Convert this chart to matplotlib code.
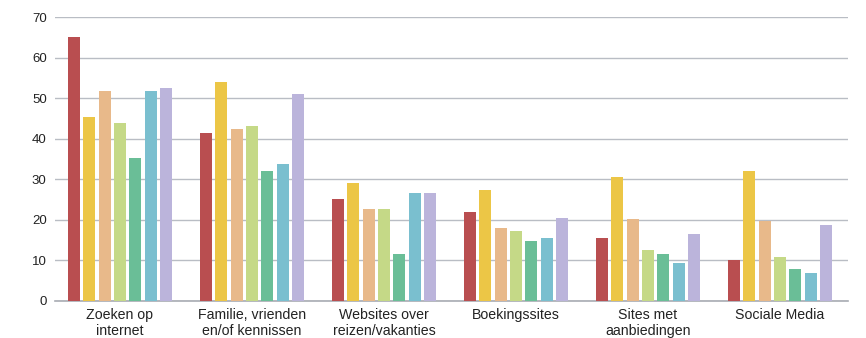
import numpy as np
import matplotlib.pyplot as plt

plt.rcParams['font.family'] = ['Liberation Sans', 'DejaVu Sans']

categories = ['Zoeken op\ninternet', 'Familie, vrienden\nen/of kennissen',
              'Websites over\nreizen/vakanties', 'Boekingssites',
              'Sites met\naanbiedingen', 'Sociale Media']

# one list per series (7 series, same order as the colours)
s1 = [65.0, 41.5, 25.1, 21.9, 15.6, 10.1]
s2 = [45.4, 54.1, 29.0, 27.4, 30.5, 32.0]
s3 = [51.8, 42.3, 22.7, 18.0, 20.3, 19.6]
s4 = [43.8, 43.1, 22.7, 17.3, 12.5, 10.8]
s5 = [35.2, 32.0, 11.7, 14.9, 11.7, 7.8]
s6 = [51.8, 33.7, 26.6, 15.6, 9.4, 7.0]
s7 = [52.5, 50.9, 26.6, 20.4, 16.4, 18.7]
series = [s1, s2, s3, s4, s5, s6, s7]

colors = ['#B94E50', '#ECC646', '#E8B98A', '#C5D987', '#6ABE97', '#7ABFCF', '#BBB4DB']

fig = plt.figure(figsize=(8.66, 3.38), dpi=100)
ax = fig.add_axes([0.0635, 0.1095, 0.9155, 0.8402])

x = np.arange(len(categories))
pitch = 0.1167
width = 0.091
for i, (vals, c) in enumerate(zip(series, colors)):
    ax.bar(x + (i - 3) * pitch, vals, width, color=c, zorder=3)

ax.set_xlim(-0.492, 5.513)
ax.set_ylim(0, 70)
ax.set_yticks(range(0, 71, 10))
ax.yaxis.grid(True, color='#B9BDC4', linewidth=1, zorder=0)
ax.set_xticks(x)
ax.set_xticklabels(categories, fontsize=10.2, color='#222222')
ax.tick_params(axis='y', labelsize=9.5, colors='#222222', length=0, pad=6)
ax.tick_params(axis='x', length=0, pad=5)

for side in ['top', 'right', 'left']:
    ax.spines[side].set_visible(False)
ax.spines['bottom'].set_color('#A8ACB3')
ax.spines['bottom'].set_linewidth(1.2)

fig.savefig('out.png', dpi=100)
